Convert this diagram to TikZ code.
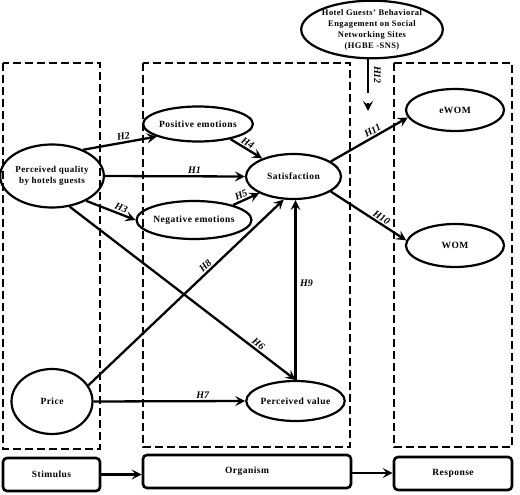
\documentclass[tikz,border=0pt]{standalone}
\usepackage{fontspec}
\setmainfont{Liberation Serif}
\newfontfamily\nf{Liberation Serif}[LetterSpace=5]
\usetikzlibrary{shapes.geometric,arrows.meta}
\begin{document}
\begin{tikzpicture}[x=1pt,y=-1pt,
 ell/.style={ellipse,draw,line width=2.2pt,inner sep=0pt,align=center,
   font=\nf\bfseries\fontsize{9.5}{11}\selectfont},
 arr/.style={line width=2.3pt,-{Stealth[length=10pt,width=10pt,inset=4pt]}},
 hl/.style={font=\bfseries\itshape\fontsize{10}{12}\selectfont,inner sep=1.5pt},
 dbox/.style={draw,line width=2.8pt,dash pattern=on 8pt off 4pt},
 sbox/.style={draw,line width=2.6pt,rounded corners=4pt,inner sep=0pt,
   font=\nf\bfseries\fontsize{9.5}{11}\selectfont}]
\useasboundingbox (0,0) rectangle (520,495);

% dashed group frames
\draw[dbox] (3,63) rectangle (100,449);
\draw[dbox] (143,63) rectangle (350,447);
\draw[dbox] (394,63) rectangle (512,447);

% bottom boxes
\node[sbox,minimum width=97pt,minimum height=33pt] (stim) at (51.5,474.5) {Stimulus};
\node[sbox,minimum width=208pt,minimum height=33pt] (org) at (247,471.5) {Organism};
\node[sbox,minimum width=118pt,minimum height=33pt] (resp) at (453,473.5) {Response};
\draw[arr] (stim.east) -- (stim.east -| org.west);
\draw[arr] ([yshift=-1.5pt]org.east) -- ([yshift=-1.5pt]org.east -| resp.west);

% ellipses
\node[ell,minimum width=81pt,minimum height=63pt,font=\nf\bfseries\fontsize{9}{10.5}\selectfont] (pq) at (52,176) {Perceived quality\\by hotels guests};
\node[ell,minimum width=98pt,minimum height=35pt] (pos) at (198,124) {Positive emotions};
\node[ell,minimum width=95pt,minimum height=45pt] (sat) at (293.5,176.5) {Satisfaction};
\node[ell,minimum width=96pt,minimum height=38pt] (neg) at (194,220) {Negative emotions};
\node[ell,minimum width=98pt,minimum height=42pt] (ewom) at (455,110) {eWOM};
\node[ell,minimum width=98pt,minimum height=43pt] (wom) at (455,245.5) {WOM};
\node[ell,minimum width=81pt,minimum height=65pt] (price) at (52,401.5) {Price};
\node[ell,minimum width=97pt,minimum height=40pt] (pv) at (295.5,401) {Perceived value};
\node[ell,minimum width=138pt,minimum height=49pt,font=\nf\bfseries\fontsize{8.5}{11}\selectfont] (hgbe) at (372,29.5) {Hotel Guests’ Behavioral\\Engagement on Social\\Networking Sites\\(HGBE -SNS)};

% hypotheses
\draw[arr] (pq.40) -- node[hl,above,sloped,pos=0.56] (l2) {H2} (pos.197);
\draw[arr] (pq.east) -- node[hl,above,pos=0.64] (l1) {H1} (sat.west);
\draw[arr] (pq.-36) -- node[hl,above,sloped,pos=0.67] (l3) {H3} (neg.west);
\draw[arr] (pq.-60) -- node[hl,above,sloped,pos=0.82] (l6) {H6} (pv.north);
\draw[arr] (pos.-25) -- node[hl,above,sloped,pos=0.45] (l4) {H4} (sat.150);
\draw[arr] (neg.21) -- node[hl,above,sloped,pos=0.4] (l5) {H5} (sat.206);
\draw[arr] (price.24) -- node[hl,above,sloped,pos=0.62] (l8) {H8} (sat.247);
\draw[arr] (pv.north) -- node[hl,right,pos=0.54,xshift=2pt] (l9) {H9} (pv.north |- sat.south);
\draw[arr] (price.east) -- node[hl,above,pos=0.72] (l7) {H7} (pv.west);
\draw[arr] (sat.22) -- node[hl,above,sloped,pos=0.58] (l11) {H11} (ewom.189);
\draw[arr] (sat.-22) -- node[hl,above,sloped,pos=0.63] (l10) {H10} (wom.174);

\coordinate (h12e) at (368,111);
\draw[arr,dash pattern=on 34pt off 10pt] (hgbe.south -| h12e) -- (h12e);
\node[hl,rotate=-90] (l12) at (377.5,75) {H12};
\end{tikzpicture}
\end{document}
